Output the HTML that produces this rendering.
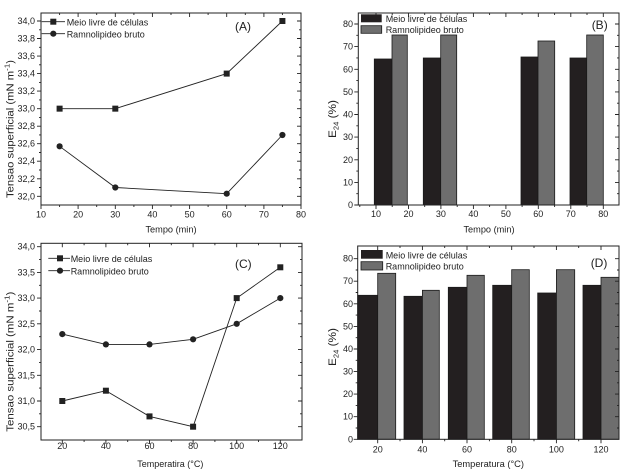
<!DOCTYPE html>
<html><head><meta charset="utf-8"><style>
html,body{margin:0;padding:0;background:#fff;}
svg{display:block;}
text{font-family:"Liberation Sans",Arial,sans-serif;fill:#222;}
.t{font-size:9px;}
.e{text-anchor:end;}
.m{text-anchor:middle;}
.ax{fill:none;stroke:#222;stroke-width:1;}
.tk{fill:none;stroke:#222;stroke-width:0.9;}
.ln{fill:none;stroke:#222;stroke-width:0.9;}
.bk{fill:#231f20;stroke:#1a1a1a;stroke-width:0.8;}
.gr{fill:#6e6e6e;stroke:#1a1a1a;stroke-width:0.8;}
</style></head><body>
<svg width="629" height="474" viewBox="0 0 629 474" xmlns="http://www.w3.org/2000/svg">
<rect width="629" height="474" fill="#fff"/>

<!-- ===== Panel A ===== -->
<rect class="ax" x="41" y="13" width="260" height="192"/>
<path class="tk" d="M41 196.3h-4M41 178.8h-4M41 161.2h-4M41 143.7h-4M41 126.2h-4M41 108.7h-4M41 91.1h-4M41 73.6h-4M41 56.1h-4M41 38.5h-4M41 21h-4
M41 187.5h-2M41 170h-2M41 152.5h-2M41 134.9h-2M41 117.4h-2M41 99.9h-2M41 82.4h-2M41 64.8h-2M41 47.3h-2M41 29.8h-2
M301 196.3h-4M301 178.8h-4M301 161.2h-4M301 143.7h-4M301 126.2h-4M301 108.7h-4M301 91.1h-4M301 73.6h-4M301 56.1h-4M301 38.5h-4M301 21h-4
M301 187.5h-2M301 170h-2M301 152.5h-2M301 134.9h-2M301 117.4h-2M301 99.9h-2M301 82.4h-2M301 64.8h-2M301 47.3h-2M301 29.8h-2
M41 205v4M78.1 205v4M115.3 205v4M152.4 205v4M189.6 205v4M226.7 205v4M263.9 205v4M301 205v4
M59.6 205v2M96.7 205v2M133.9 205v2M171 205v2M208.1 205v2M245.3 205v2M282.4 205v2
M78.1 13v4M115.3 13v4M152.4 13v4M189.6 13v4M226.7 13v4M263.9 13v4
M59.6 13v2M96.7 13v2M133.9 13v2M171 13v2M208.1 13v2M245.3 13v2M282.4 13v2"/>
<g class="t e">
<text x="35" y="24">34,0</text><text x="35" y="41.5">33,8</text><text x="35" y="59.1">33,6</text><text x="35" y="76.6">33,4</text><text x="35" y="94.1">33,2</text><text x="35" y="111.7">33,0</text><text x="35" y="129.2">32,8</text><text x="35" y="146.7">32,6</text><text x="35" y="164.2">32,4</text><text x="35" y="181.8">32,2</text><text x="35" y="199.3">32,0</text>
</g>
<g class="t m">
<text x="41" y="217.5">10</text><text x="78.1" y="217.5">20</text><text x="115.3" y="217.5">30</text><text x="152.4" y="217.5">40</text><text x="189.6" y="217.5">50</text><text x="226.7" y="217.5">60</text><text x="263.9" y="217.5">70</text><text x="301" y="217.5">80</text>
</g>
<polyline class="ln" points="59.6,108.65 115.3,108.65 226.7,73.6 282.4,21"/>
<polyline class="ln" points="59.6,146.3 115.3,187.5 226.7,193.7 282.4,135"/>
<g fill="#222">
<rect x="56.6" y="105.65" width="6" height="6"/><rect x="112.3" y="105.65" width="6" height="6"/><rect x="223.7" y="70.6" width="6" height="6"/><rect x="279.4" y="18" width="6" height="6"/>
<circle cx="59.6" cy="146.3" r="3.1"/><circle cx="115.3" cy="187.5" r="3.1"/><circle cx="226.7" cy="193.7" r="3.1"/><circle cx="282.4" cy="135" r="3.1"/>
</g>
<path class="ln" d="M41.7 21.7H65M41.7 33.7H65"/>
<rect x="50.3" y="18.7" width="6" height="6" fill="#222"/>
<circle cx="53.3" cy="33.7" r="3.1" fill="#222"/>
<text class="t" x="66.7" y="25.3">Meio livre de células</text>
<text class="t" x="66.7" y="37.3">Ramnolipideo bruto</text>
<text x="235" y="30.5" style="font-size:12px">(A)</text>
<text class="t m" x="171" y="232.7" style="font-size:9.2px">Tempo (min)</text>
<text transform="translate(13.6,129) rotate(-90)" class="m" style="font-size:10px" textLength="138" lengthAdjust="spacingAndGlyphs">Tensao superficial (mN m<tspan dy="-4" style="font-size:7px">-1</tspan><tspan dy="4">)</tspan></text>

<!-- ===== Panel B ===== -->
<rect class="bk" x="374.3" y="59" width="17.7" height="146"/>
<rect class="gr" x="392" y="35" width="15.3" height="170"/>
<rect class="bk" x="423.3" y="58" width="17.4" height="147"/>
<rect class="gr" x="440.7" y="35" width="16" height="170"/>
<rect class="bk" x="521" y="57" width="17" height="148"/>
<rect class="gr" x="538" y="41" width="16.7" height="164"/>
<rect class="bk" x="570" y="58" width="16.7" height="147"/>
<rect class="gr" x="586.7" y="35" width="16.6" height="170"/>
<rect class="ax" x="358.3" y="13" width="260.7" height="192"/>
<path class="tk" d="M358.3 205h-4M358.3 182.4h-4M358.3 159.8h-4M358.3 137.1h-4M358.3 114.5h-4M358.3 91.9h-4M358.3 69.3h-4M358.3 46.6h-4M358.3 24h-4
M358.3 193.7h-2M358.3 171.1h-2M358.3 148.4h-2M358.3 125.8h-2M358.3 103.2h-2M358.3 80.6h-2M358.3 57.9h-2M358.3 35.3h-2
M619 182.4h-4M619 159.8h-4M619 137.1h-4M619 114.5h-4M619 91.9h-4M619 69.3h-4M619 46.6h-4M619 24h-4
M619 193.7h-2M619 171.1h-2M619 148.4h-2M619 125.8h-2M619 103.2h-2M619 80.6h-2M619 57.9h-2M619 35.3h-2
M376 205v4M408.5 205v4M440.9 205v4M473.4 205v4M505.9 205v4M538.3 205v4M570.8 205v4M603.3 205v4
M359.8 205v2M392.2 205v2M424.7 205v2M457.2 205v2M489.6 205v2M522.1 205v2M554.6 205v2M587 205v2
M376 13v4M408.5 13v4M440.9 13v4M473.4 13v4M505.9 13v4M538.3 13v4M570.8 13v4M603.3 13v4
M392.2 13v2M424.7 13v2M457.2 13v2M489.6 13v2M522.1 13v2M554.6 13v2M587 13v2"/>
<g class="t e">
<text x="353" y="208">0</text><text x="353" y="185.4">10</text><text x="353" y="162.8">20</text><text x="353" y="140.1">30</text><text x="353" y="117.5">40</text><text x="353" y="94.9">50</text><text x="353" y="72.3">60</text><text x="353" y="49.6">70</text><text x="353" y="27">80</text>
</g>
<g class="t m">
<text x="376" y="217">10</text><text x="408.5" y="217">20</text><text x="440.9" y="217">30</text><text x="473.4" y="217">40</text><text x="505.9" y="217">50</text><text x="538.3" y="217">60</text><text x="570.8" y="217">70</text><text x="603.3" y="217">80</text>
</g>
<rect x="361" y="14.3" width="20.7" height="8" fill="#231f20"/>
<rect x="361" y="25.7" width="20.7" height="7.6" fill="#6e6e6e" stroke="#1a1a1a" stroke-width="0.8"/>
<text class="t" x="385.7" y="22">Meio livre de células</text>
<text class="t" x="385.7" y="33">Ramnolipideo bruto</text>
<text x="591.7" y="29" style="font-size:12px">(B)</text>
<text class="t m" x="489" y="232.7" style="font-size:9.2px">Tempo (min)</text>
<text transform="translate(336,119) rotate(-90)" class="m" style="font-size:11px" textLength="38" lengthAdjust="spacingAndGlyphs">E<tspan dy="2.5" style="font-size:7px">24</tspan><tspan dy="-2.5"> (%)</tspan></text>

<!-- ===== Panel C ===== -->
<rect class="ax" x="41" y="243.3" width="261" height="196.7"/>
<path class="tk" d="M41 426.7h-4M41 401h-4M41 375.3h-4M41 349.6h-4M41 323.8h-4M41 298.1h-4M41 272.4h-4M41 246.7h-4
M41 413.8h-2M41 388.1h-2M41 362.4h-2M41 336.7h-2M41 311h-2M41 285.3h-2M41 259.6h-2
M302 426.7h-4M302 401h-4M302 375.3h-4M302 349.6h-4M302 323.8h-4M302 298.1h-4M302 272.4h-4M302 246.7h-4
M302 413.8h-2M302 388.1h-2M302 362.4h-2M302 336.7h-2M302 311h-2M302 285.3h-2M302 259.6h-2
M62.3 440v4M105.9 440v4M149.5 440v4M193.1 440v4M236.7 440v4M280.3 440v4
M84.1 440v2M127.7 440v2M171.3 440v2M214.9 440v2M258.5 440v2
M62.3 243.3v4M105.9 243.3v4M149.5 243.3v4M193.1 243.3v4M236.7 243.3v4M280.3 243.3v4
M84.1 243.3v2M127.7 243.3v2M171.3 243.3v2M214.9 243.3v2M258.5 243.3v2"/>
<g class="t e">
<text x="35" y="429.7">30,5</text><text x="35" y="404">31,0</text><text x="35" y="378.3">31,5</text><text x="35" y="352.6">32,0</text><text x="35" y="326.8">32,5</text><text x="35" y="301.1">33,0</text><text x="35" y="275.4">33,5</text><text x="35" y="249.7">34,0</text>
</g>
<g class="t m">
<text x="62.3" y="449">20</text><text x="105.9" y="449">40</text><text x="149.5" y="449">60</text><text x="193.1" y="449">80</text><text x="236.7" y="449">100</text><text x="280.3" y="449">120</text>
</g>
<polyline class="ln" points="62.3,401 105.9,390.7 149.5,416.4 193.1,426.7 236.7,298.1 280.3,267.3"/>
<polyline class="ln" points="62.3,334.1 105.9,344.4 149.5,344.4 193.1,339.3 236.7,323.8 280.3,298.1"/>
<g fill="#222">
<rect x="59.3" y="398" width="6" height="6"/><rect x="102.9" y="387.7" width="6" height="6"/><rect x="146.5" y="413.4" width="6" height="6"/><rect x="190.1" y="423.7" width="6" height="6"/><rect x="233.7" y="295.1" width="6" height="6"/><rect x="277.3" y="264.3" width="6" height="6"/>
<circle cx="62.3" cy="334.1" r="3.1"/><circle cx="105.9" cy="344.4" r="3.1"/><circle cx="149.5" cy="344.4" r="3.1"/><circle cx="193.1" cy="339.3" r="3.1"/><circle cx="236.7" cy="323.8" r="3.1"/><circle cx="280.3" cy="298.1" r="3.1"/>
</g>
<path class="ln" d="M48.3 258.3H70M48.3 270.7H70"/>
<rect x="57" y="255.3" width="6" height="6" fill="#222"/>
<circle cx="60" cy="270.7" r="3.1" fill="#222"/>
<text class="t" x="70.7" y="262">Meio livre de células</text>
<text class="t" x="70.7" y="274.3">Ramnolipideo bruto</text>
<text x="235" y="268" style="font-size:12px">(C)</text>
<text class="t m" x="170.3" y="467" style="font-size:9px">Temperatira (°C)</text>
<text transform="translate(13.6,361.7) rotate(-90)" class="m" style="font-size:10px" textLength="140" lengthAdjust="spacingAndGlyphs">Tensao superficial (mN m<tspan dy="-4" style="font-size:7px">-1</tspan><tspan dy="4">)</tspan></text>

<!-- ===== Panel D ===== -->
<rect class="bk" x="357.7" y="295.3" width="20" height="144"/>
<rect class="gr" x="377.7" y="273.3" width="18" height="166"/>
<rect class="bk" x="404" y="296.3" width="18.4" height="143"/>
<rect class="gr" x="422.4" y="290.3" width="16.9" height="149"/>
<rect class="bk" x="448.3" y="287.3" width="18.7" height="152"/>
<rect class="gr" x="467" y="275.3" width="17.3" height="164"/>
<rect class="bk" x="492.7" y="285.3" width="19" height="154"/>
<rect class="gr" x="511.7" y="269.7" width="17.6" height="169.6"/>
<rect class="bk" x="537.7" y="293" width="18.7" height="146.3"/>
<rect class="gr" x="556.4" y="269.7" width="18.3" height="169.6"/>
<rect class="bk" x="583" y="285.3" width="18" height="154"/>
<rect class="gr" x="601" y="277.3" width="18" height="162"/>
<rect class="ax" x="357.7" y="246" width="261.3" height="193.3"/>
<path class="tk" d="M357.7 439.3h-4M357.7 416.7h-4M357.7 394.1h-4M357.7 371.6h-4M357.7 349h-4M357.7 326.4h-4M357.7 303.8h-4M357.7 281.2h-4M357.7 258.7h-4
M357.7 428h-2M357.7 405.4h-2M357.7 382.8h-2M357.7 360.3h-2M357.7 337.7h-2M357.7 315.1h-2M357.7 292.5h-2M357.7 270h-2
M619 416.7h-4M619 394.1h-4M619 371.6h-4M619 349h-4M619 326.4h-4M619 303.8h-4M619 281.2h-4M619 258.7h-4
M619 428h-2M619 405.4h-2M619 382.8h-2M619 360.3h-2M619 337.7h-2M619 315.1h-2M619 292.5h-2M619 270h-2
M377.7 439.3v4M422.4 439.3v4M467 439.3v4M511.7 439.3v4M556.4 439.3v4M601 439.3v4
M400 439.3v2M444.7 439.3v2M489.4 439.3v2M534 439.3v2M578.7 439.3v2
M377.7 246v4M422.4 246v4M467 246v4M511.7 246v4M556.4 246v4M601 246v4
M400 246v2M444.7 246v2M489.4 246v2M534 246v2M578.7 246v2"/>
<g class="t e">
<text x="353" y="442.3">0</text><text x="353" y="419.7">10</text><text x="353" y="397.1">20</text><text x="353" y="374.6">30</text><text x="353" y="352">40</text><text x="353" y="329.4">50</text><text x="353" y="306.8">60</text><text x="353" y="284.2">70</text><text x="353" y="261.7">80</text>
</g>
<g class="t m">
<text x="377.7" y="452.5">20</text><text x="422.4" y="452.5">40</text><text x="467" y="452.5">60</text><text x="511.7" y="452.5">80</text><text x="556.4" y="452.5">100</text><text x="601" y="452.5">120</text>
</g>
<rect x="361" y="250" width="21.7" height="8.7" fill="#231f20"/>
<rect x="361" y="261.7" width="21.7" height="8.3" fill="#6e6e6e" stroke="#1a1a1a" stroke-width="0.8"/>
<text class="t" x="385.7" y="258.3">Meio livre de células</text>
<text class="t" x="385.7" y="269.7">Ramnolipideo bruto</text>
<text x="590.7" y="267" style="font-size:12px">(D)</text>
<text class="t m" x="488.3" y="467" style="font-size:9.3px">Temperatura (°C)</text>
<text transform="translate(336,347) rotate(-90)" class="m" style="font-size:11px" textLength="38" lengthAdjust="spacingAndGlyphs">E<tspan dy="2.5" style="font-size:7px">24</tspan><tspan dy="-2.5"> (%)</tspan></text>
</svg>
</body></html>
